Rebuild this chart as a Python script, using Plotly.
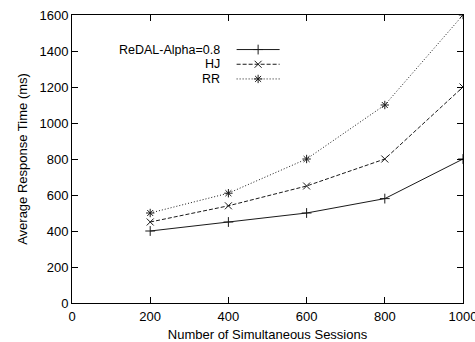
import plotly.graph_objects as go

sessions = [200, 400, 600, 800, 1000]
redal = [400, 450, 500, 580, 800]
hj = [450, 540, 650, 800, 1200]
rr = [500, 610, 800, 1100, 1600]

names = ["ReDAL-Alpha=0.8", "HJ", "RR"]
series = [redal, hj, rr]
dashes = ["solid", "4px,2px", "1px,2px"]
symbols = ["cross-thin", "x-thin", "asterisk"]
x_ticks = [0, 200, 400, 600, 800, 1000]
y_ticks = [0, 200, 400, 600, 800, 1000, 1200, 1400, 1600]

FONT = "Liberation Sans, Arial, Helvetica, sans-serif"
COL = "#1a1a1a"
fig = go.Figure()

for name, ys, d, s in zip(names, series, dashes, symbols):
    fig.add_trace(go.Scatter(
        x=sessions, y=ys, mode="lines+markers", name=name,
        line=dict(color=COL, width=1, dash=d),
        marker=dict(symbol=s, size=7, color=COL, line=dict(color=COL, width=1)),
        showlegend=False,
    ))

# manual gnuplot-style legend (text right-aligned, sample to the right)
leg_y = [0.880, 0.829, 0.778]
for name, d, s, ly in zip(names, dashes, symbols, leg_y):
    fig.add_trace(go.Scatter(
        x=[0.421, 0.531], y=[ly, ly], xaxis="x2", yaxis="y2", mode="lines",
        line=dict(color=COL, width=1, dash=d), showlegend=False, hoverinfo="skip",
    ))
    fig.add_trace(go.Scatter(
        x=[0.476], y=[ly], xaxis="x2", yaxis="y2", mode="markers",
        marker=dict(symbol=s, size=7, color=COL, line=dict(color=COL, width=1)),
        showlegend=False, hoverinfo="skip",
    ))
    fig.add_annotation(
        x=0.38, y=ly, xref="x2", yref="y2", text=name, showarrow=False,
        xanchor="right", yanchor="middle", height=12, valign="middle", borderpad=0,
        font=dict(family=FONT, size=12.5, color="#000"),
    )

axis_common = dict(
    showline=True, linecolor="#000", linewidth=1, mirror="ticks",
    ticks="inside", ticklen=6, tickcolor="#000", tickwidth=1,
    showgrid=False, zeroline=False, ticklabeloverflow="allow", automargin=False,
    tickfont=dict(family=FONT, size=13, color="#000"),
)
fig.update_layout(
    width=475, height=342,
    margin=dict(l=72, r=12, t=15, b=39),
    paper_bgcolor="white", plot_bgcolor="white",
    xaxis=dict(range=[0, 1000], tickvals=x_ticks, ticklabelstandoff=1,
               title=dict(text="Number of Simultaneous Sessions", standoff=8,
                          font=dict(family=FONT, size=13, color="#000")),
               **axis_common),
    yaxis=dict(range=[0, 1600], tickvals=y_ticks,
               title=dict(text="Average Response Time (ms)", standoff=8,
                          font=dict(family=FONT, size=13, color="#000")),
               **axis_common),
    xaxis2=dict(range=[0, 1], overlaying="x", visible=False),
    yaxis2=dict(range=[0, 1], overlaying="y", visible=False),
)

fig.write_html("out.html")
